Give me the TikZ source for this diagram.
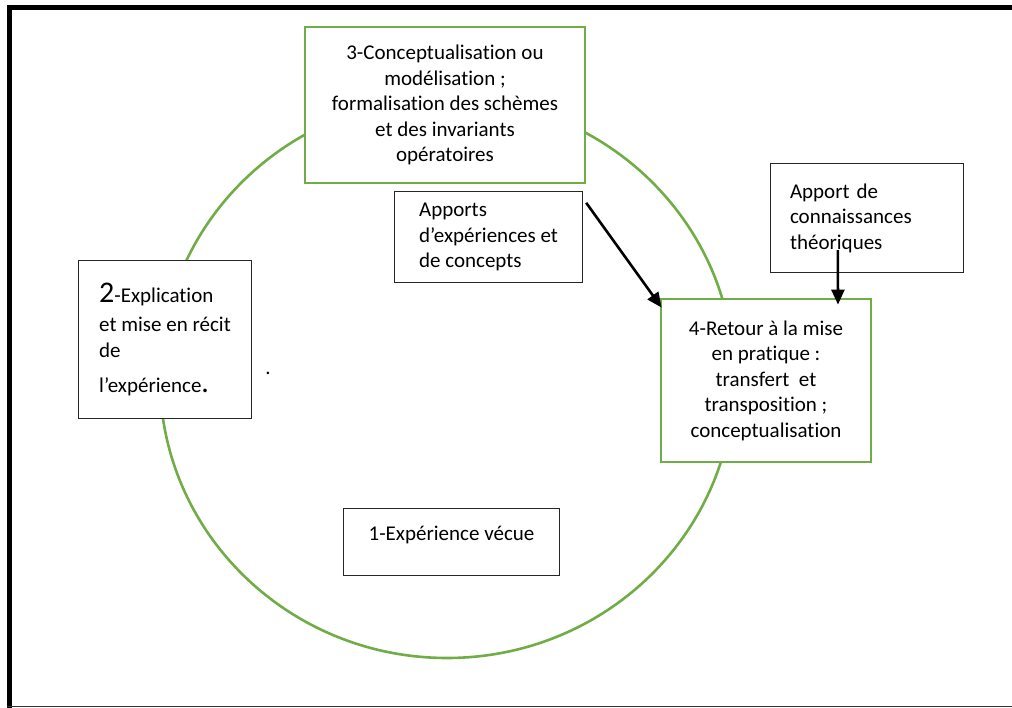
\documentclass[tikz,border=0pt]{standalone}
\usepackage{fontspec}
\setmainfont{Carlito}[Ligatures=NoCommon]
\usetikzlibrary{arrows.meta,calc}
\definecolor{boxgreen}{HTML}{70AD47}
\begin{document}
\begin{tikzpicture}[x=1pt,y=-1pt,
  txt/.style={font=\fontsize{21}{25.5}\selectfont},
  greenbox/.style={draw=boxgreen,line width=2.8pt,fill=white,txt,align=center,inner sep=0pt},
  blackbox/.style={draw=black!85,line width=1.4pt,fill=white,txt,inner sep=0pt},
  arr/.style={line width=2.6pt,-{Triangle[length=15pt,width=13pt]}}
]
\useasboundingbox (0,0) rectangle (1012,708);
% frame
\draw[line width=5pt] (1014,7.5) -- (9.5,7.5) -- (9.5,710);
\draw[line width=1.5pt,black!80] (7,706.5) -- (1014,706.5);
% cycle
\draw[boxgreen,line width=2.6pt] (447,378) ellipse [x radius=287pt,y radius=280pt];
% boxes
\node[greenbox,minimum width=280pt,minimum height=156pt] (c3) at (445,105)
  {3-Conceptualisation ou\\ modélisation ;\\ formalisation des schèmes\\ et des invariants\\ opératoires};
\node[greenbox,minimum width=210pt,minimum height=163pt] (c4) at (766,380.5)
  {4-Retour à la mise\\ en pratique :\\ transfert~ et\\ transposition ;\\ conceptualisation};
\node[blackbox,align=left,minimum width=173pt,minimum height=158pt] (c2) at (165,339.5)
  {{\fontsize{30}{25.5}\selectfont 2}-Explication\\[3.5pt] et mise en récit\\ de\\[9.5pt] l’expérience{\fontsize{30}{25.5}\selectfont .}};
\node[txt,anchor=base] (dot) at (268,375) {.};
\node[blackbox,align=left,minimum width=188pt,minimum height=91pt] (apx) at (488.5,237)
  {Apports\\ d’expériences et\\ de concepts};
\node[blackbox,align=left,text width=154pt,minimum width=193pt,minimum height=109pt] (apt) at (867,218)
  {Apport de\\ connaissances\\ théoriques};
\node[blackbox,text height=15pt,text depth=19pt,minimum width=216pt,minimum height=67pt] (c1) at (451.5,542)
  {1-Expérience vécue};
% arrows
\draw[arr] ($(apx.north east)+(3,12)$) -- ($(c4.north west)+(2,10)$);
\draw[arr] ($(apt.south west)+(68,-23)$) -- ($(c4.north)+(72,7)$);
\end{tikzpicture}
\end{document}
